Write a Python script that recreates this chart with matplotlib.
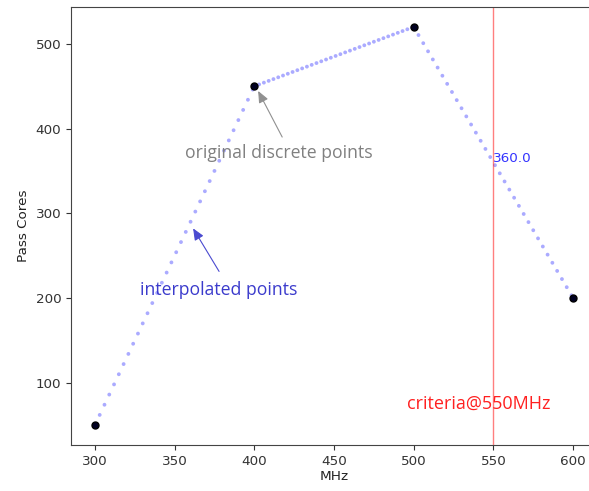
import numpy as np
import matplotlib
matplotlib.use('Agg')
import matplotlib.pyplot as plt

# original discrete points (MHz, pass cores)
freq = [300, 400, 500, 600]
cores = [50, 450, 520, 200]
criteria_mhz = 550
criteria_cores = 360.0

dpi = 100
fig = plt.figure(figsize=(5.89, 4.91), dpi=dpi)
# right side of the axes is cut off in the screenshot
ax = fig.add_axes([71 / 589, 46 / 491, 526 / 589, 438 / 491])
ax.set_xlim(285, 615)
ax.set_ylim(26.5, 543.5)

# dotted light blue line, dot spacing ~3 MHz along x
step_mhz = 3
lw = 2.8
for i in range(len(freq) - 1):
    p0 = ax.transData.transform((freq[i], cores[i]))
    p1 = ax.transData.transform((freq[i + 1], cores[i + 1]))
    seg_px = np.hypot(*(p1 - p0))
    n_steps = (freq[i + 1] - freq[i]) / step_mhz
    spacing_pt = seg_px / n_steps * 72 / dpi
    ax.plot([freq[i], freq[i + 1]], [cores[i], cores[i + 1]],
            color='blue', alpha=0.33, lw=lw,
            linestyle=(0, (0.01, spacing_pt / lw - 0.01)),
            dash_capstyle='round', zorder=2)

ax.plot(freq, cores, 'o', color='black', markerfacecolor='#000022',
        markersize=5, zorder=3)

ax.axvline(criteria_mhz, color='red', alpha=0.5, lw=1)
ax.text(criteria_mhz, criteria_cores, str(criteria_cores), color='#3333ff',
        fontsize=9.7)
ax.text(496, 75, 'criteria@' + str(criteria_mhz) + 'MHz', color='#ff2020',
        fontsize=13, family='Open Sans', va='center')

# annotations
ax.text(415.6, 371, 'original discrete points', color='#808080',
        fontsize=12.7, family='Open Sans', ha='center', va='center')
ax.annotate('', xy=(402.4, 444.4), xytext=(417.5, 390),
            arrowprops=dict(arrowstyle='-|>,head_length=0.7,head_width=0.3',
                            color='#909090', lw=0.8, shrinkA=0, shrinkB=0))
ax.text(377.9, 209, 'interpolated points', color='#3b3bcc',
        fontsize=12.7, family='Open Sans', ha='center', va='center')
ax.annotate('', xy=(361.6, 282.2), xytext=(377.9, 231.4),
            arrowprops=dict(arrowstyle='-|>,head_length=0.7,head_width=0.3',
                            color='#4a4ad0', lw=0.8, shrinkA=0, shrinkB=0))

ax.set_xticks([300, 350, 400, 450, 500, 550, 600])
ax.set_yticks([100, 200, 300, 400, 500])
ax.tick_params(labelsize=9.7, colors='#333333')
for s in ax.spines.values():
    s.set_color('#444444')
ax.spines['right'].set_visible(False)
ax.set_xlabel('MHz', fontsize=9.7, color='#222222', labelpad=2)
ax.set_ylabel('Pass Cores', fontsize=9.7, color='#222222')

plt.savefig('out.png', dpi=dpi)
